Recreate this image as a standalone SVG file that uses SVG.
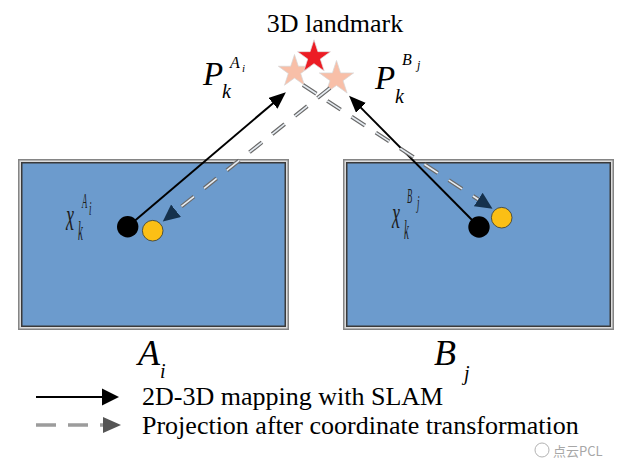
<svg xmlns="http://www.w3.org/2000/svg" width="624" height="461" viewBox="0 0 624 461">
<style>
.t{fill:#000}
.it{font-style:italic;fill:#000}
.xl{font-style:italic;fill:#1e1e1e}
.outer{fill:#dcdcdc;stroke:#858585;stroke-width:1.5}
.inner{fill:#6c9bcd;stroke:#3a3a3a;stroke-width:1.5}
.solid{stroke:#000;stroke-width:2;fill:none}
.dashO{stroke:#6a6a6a;stroke-width:4;fill:none;stroke-dasharray:16 13}
.dashI{stroke:#e6ecf2;stroke-width:1.6;fill:none;stroke-dasharray:16 13}
.pink{fill:#f8bfa8;stroke:#d6d6d6;stroke-width:0.7}
.red{fill:#ec1c24;stroke:#e0e0e0;stroke-width:0.7}
</style>
<defs>
<path id="star" d="M0,-17 L3.82,-5.26 L16.17,-5.25 L6.18,2.01 L9.99,13.75 L0,6.5 L-9.99,13.75 L-6.18,2.01 L-16.17,-5.25 L-3.82,-5.26 Z"/>
<marker id="ahBlack" markerUnits="userSpaceOnUse" markerWidth="18" markerHeight="16" refX="1" refY="7" orient="auto">
<path d="M0,0 L17,7 L0,14 Z" fill="#000"/>
</marker>
<marker id="ahNavy" markerUnits="userSpaceOnUse" markerWidth="18" markerHeight="17" refX="1" refY="8" orient="auto">
<path d="M0,0 L17,8 L0,16 Z" fill="#15314c"/>
</marker>
</defs>

<g id="frame-A" font-family="Liberation Serif, Times New Roman, serif">
<rect class="outer" x="18.75" y="159.75" width="269.5" height="169.5"/>
<rect class="inner" x="21.75" y="162.75" width="263.5" height="163.5"/>
<text class="xl" font-size="18" transform="matrix(1,0,0,2.4,66,230)">x</text>
<text class="xl" font-size="12" transform="matrix(0.9,0,0,2.2,78,240)">k</text>
<text class="xl" font-size="10" transform="matrix(0.85,0,0,2.2,82,208)">A</text>
<text class="xl" font-size="10" transform="matrix(0.9,0,0,1.8,89,215)">i</text>
</g>

<g id="frame-B" font-family="Liberation Serif, Times New Roman, serif">
<rect class="outer" x="343.75" y="159.75" width="269.5" height="169.5"/>
<rect class="inner" x="346.75" y="162.75" width="263.5" height="163.5"/>
<text class="xl" font-size="18" transform="matrix(1,0,0,2.2,392,228)">x</text>
<text class="xl" font-size="12" transform="matrix(0.9,0,0,2.2,404,239)">k</text>
<text class="xl" font-size="10" transform="matrix(0.85,0,0,2.2,407,203)">B</text>
<text class="xl" font-size="10" transform="matrix(0.9,0,0,1.8,417,209)">j</text>
</g>

<g id="landmark" font-family="Liberation Serif, Times New Roman, serif">
<text class="t" x="335" y="32" font-size="26" text-anchor="middle">3D landmark</text>
<use href="#star" class="pink" transform="translate(294.5,71.5) scale(1.0)"/>
<use href="#star" class="pink" transform="translate(336.5,78.5) scale(1.06)"/>
<use href="#star" class="red" transform="translate(314,57) scale(1.02)"/>
</g>

<g id="label-P-A" font-family="Liberation Serif, Times New Roman, serif">
<text class="it" x="203" y="85" font-size="33">P</text>
<text class="it" x="222" y="98" font-size="20">k</text>
<text class="it" x="230" y="68" font-size="16">A</text>
<text class="it" x="242" y="72" font-size="11">i</text>
</g>

<g id="label-P-B" font-family="Liberation Serif, Times New Roman, serif">
<text class="it" x="375" y="89" font-size="33">P</text>
<text class="it" x="395" y="103" font-size="20">k</text>
<text class="it" x="402" y="65" font-size="16">B</text>
<text class="it" x="417" y="69" font-size="12">j</text>
</g>

<g id="connectors">
<line class="solid" x1="127.7" y1="226.7" x2="273.7" y2="102.7" marker-end="url(#ahBlack)"/>
<line class="solid" x1="479" y1="227" x2="360.3" y2="107.1" marker-end="url(#ahBlack)"/>
<line class="dashO" x1="330" y1="88" x2="175.3" y2="211.4"/>
<line class="dashI" x1="330" y1="88" x2="175.3" y2="211.4" marker-end="url(#ahNavy)"/>
<line class="dashO" x1="303" y1="85" x2="479.1" y2="200"/>
<line class="dashI" x1="303" y1="85" x2="479.1" y2="200" marker-end="url(#ahNavy)"/>
</g>

<g id="point-A">
<circle cx="127.7" cy="226.7" r="10.7" fill="#000"/>
<circle cx="152.7" cy="230.7" r="10.3" fill="#fbbf15" stroke="#3a3a2a" stroke-width="0.8"/>
</g>

<g id="point-B">
<circle cx="479" cy="227" r="10.7" fill="#000"/>
<circle cx="501.7" cy="217.7" r="10.3" fill="#fbbf15" stroke="#3a3a2a" stroke-width="0.8"/>
</g>

<g id="label-A" font-family="Liberation Serif, Times New Roman, serif">
<text class="it" x="138" y="365" font-size="36">A</text>
<text class="it" x="160" y="378" font-size="20">i</text>
</g>

<g id="label-B" font-family="Liberation Serif, Times New Roman, serif">
<text class="it" x="434" y="365" font-size="36">B</text>
<text class="it" x="464" y="380" font-size="20">j</text>
</g>

<g id="legend" font-family="Liberation Serif, Times New Roman, serif">
<line x1="36" y1="397" x2="102" y2="397" stroke="#000" stroke-width="2"/>
<path d="M102,388.5 L119,397 L102,405.5 Z" fill="#000"/>
<line x1="36" y1="425" x2="103" y2="425" stroke="#9c9c9c" stroke-width="3.5" stroke-dasharray="20 12"/>
<path d="M103,417 L121,425 L103,433 Z" fill="#555"/>
<text class="t" x="142" y="405" font-size="26">2D-3D mapping with SLAM</text>
<text class="t" x="142" y="434" font-size="26">Projection after coordinate transformation</text>
</g>

<g id="watermark" opacity="0.75">
<circle cx="542" cy="450" r="7" fill="none" stroke="#9a9a9a" stroke-width="1"/>
<text x="553" y="456" font-size="13" fill="#8a8a8a" font-family="Noto Sans CJK SC, Noto Sans, sans-serif">点云PCL</text>
</g>
</svg>
